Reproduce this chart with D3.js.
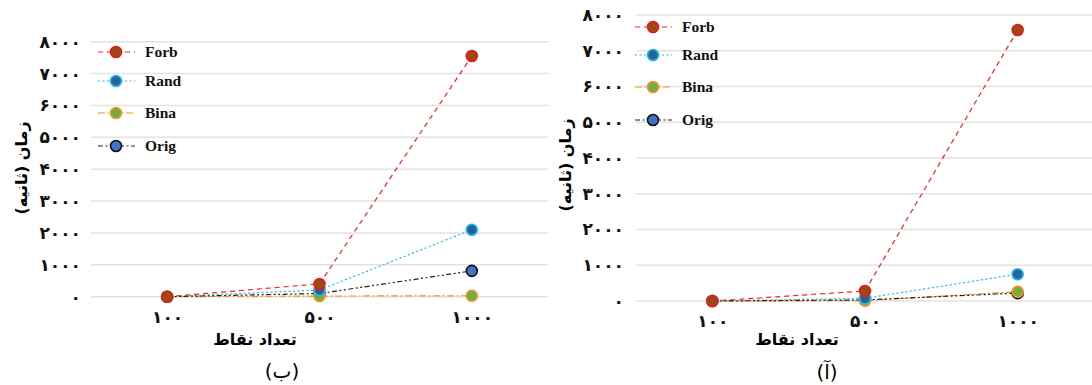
<!DOCTYPE html>
<html>
<head>
<meta charset="utf-8">
<script src="https://cdn.jsdelivr.net/npm/d3@7"></script>
<style>
  html, body { margin: 0; padding: 0; background: #fff; }
  svg { display: block; }
  .fa { font-family: "DejaVu Sans", sans-serif; }
  .lat { font-family: "Liberation Serif", "Times New Roman", serif; }
</style>
</head>
<body>
<svg id="chart" width="1092" height="385"></svg>
<script>
// Number of points on the x axis
const pointCounts = [100, 500, 1000];
const yTickValues = [0, 1000, 2000, 3000, 4000, 5000, 6000, 7000, 8000];
const seriesNames = ["Forb", "Rand", "Bina", "Orig"];

// Panel (ب): run time in seconds
const forbB = [0, 400, 7550];
const randB = [0, 210, 2100];
const binaB = [0, 20, 30];
const origB = [0, 100, 810];

// Panel (آ): run time in seconds
const forbA = [0, 280, 7580];
const randA = [0, 75, 750];
const binaA = [0, 10, 260];
const origA = [0, 30, 220];

const yTitle = "زمان (ثانیه)";
const xTitle = "تعداد نقاط";

const styles = {
  Forb: { line: "#ff2020", dash: "5,4", fill: "#9c4a14", stroke: "#e8191c" },
  Rand: { line: "#1fb8f0", dash: "2,2.5", fill: "#2a6296", stroke: "#1fb8f0" },
  Bina: { line: "#f7941d", dash: "7,2.5,2,2.5", fill: "#70ad47", stroke: "#f7941d" },
  Orig: { line: "#222222", dash: "5,2.5,2,2.5,2,2.5", fill: "#4472c4", stroke: "#111111" }
};

const faDigits = "۰۱۲۳۴۵۶۷۸۹";
const toFa = n => String(n).replace(/\d/g, d => faDigits[+d]);

const svg = d3.select("#chart");

function drawPanel(cfg) {
  const g = svg.append("g");
  const x = d3.scalePoint().domain(pointCounts).range([cfg.x0, cfg.x1]).padding(0.5);
  const y = d3.scaleLinear().domain([0, 8000]).range([cfg.yBottom, cfg.yTop]);

  // horizontal grid
  g.append("g").selectAll("line").data(yTickValues).join("line")
    .attr("x1", cfg.x0).attr("x2", cfg.x1)
    .attr("y1", d => y(d)).attr("y2", d => y(d))
    .attr("stroke", "#e2e2e2").attr("stroke-width", 1.5);

  // y axis labels
  const ya = g.append("g").attr("transform", `translate(${cfg.yLabelRight},0)`)
    .call(d3.axisLeft(y).tickValues(yTickValues).tickSize(0).tickPadding(0).tickFormat(toFa));
  ya.select(".domain").remove();
  ya.selectAll("text").attr("class", "fa").attr("font-size", 17).attr("font-weight", "bold")
    .attr("fill", "#111").attr("font-family", null);

  // x axis labels
  const xa = g.append("g").attr("transform", `translate(0,${cfg.yBottom + 11})`)
    .call(d3.axisBottom(x).tickSize(0).tickFormat(toFa));
  xa.select(".domain").remove();
  xa.selectAll("text").attr("class", "fa").attr("font-size", 17).attr("font-weight", "bold")
    .attr("fill", "#111").attr("font-family", null);

  // axis titles
  g.append("text").attr("class", "fa")
    .attr("transform", `translate(${cfg.yTitleX},${cfg.yTitleY}) rotate(-90)`)
    .attr("text-anchor", "middle").attr("dominant-baseline", "middle")
    .attr("font-size", 16).attr("font-weight", "bold").attr("direction", "rtl")
    .text(yTitle);
  g.append("text").attr("class", "fa")
    .attr("x", cfg.xTitleX).attr("y", cfg.xTitleY)
    .attr("text-anchor", "middle").attr("dominant-baseline", "middle")
    .attr("font-size", 16).attr("font-weight", "bold").attr("direction", "rtl")
    .text(xTitle);
  g.append("text").attr("class", "fa")
    .attr("x", cfg.capX).attr("y", cfg.capY)
    .attr("text-anchor", "middle").attr("dominant-baseline", "middle")
    .attr("font-size", 20).attr("direction", "rtl")
    .text(cfg.caption);

  const line = d3.line().x((d, i) => x(pointCounts[i])).y(d => y(d));

  // lines
  seriesNames.forEach(name => {
    const s = styles[name];
    g.append("path").datum(cfg.data[name])
      .attr("d", line).attr("fill", "none")
      .attr("stroke", s.line).attr("stroke-width", 1.2)
      .attr("stroke-dasharray", s.dash);
  });

  // markers, Forb drawn last so it sits on top
  seriesNames.slice().reverse().forEach(name => {
    const s = styles[name];
    g.append("g").selectAll("circle").data(cfg.data[name]).join("circle")
      .attr("cx", (d, i) => x(pointCounts[i])).attr("cy", d => y(d))
      .attr("r", 5.5).attr("fill", s.fill)
      .attr("stroke", s.stroke).attr("stroke-width", 1.6);
  });

  // legend
  const lg = g.append("g");
  seriesNames.forEach((name, i) => {
    const s = styles[name];
    const ly = cfg.legendY[i];
    lg.append("line").attr("x1", cfg.legX).attr("x2", cfg.legX + 37)
      .attr("y1", ly).attr("y2", ly)
      .attr("stroke", s.line).attr("stroke-width", 1.2).attr("stroke-dasharray", s.dash);
    lg.append("circle").attr("cx", cfg.legX + 18).attr("cy", ly).attr("r", 5.5)
      .attr("fill", s.fill).attr("stroke", s.stroke).attr("stroke-width", 1.6);
    lg.append("text").attr("class", "lat")
      .attr("x", cfg.legX + 47).attr("y", ly).attr("dy", "0.35em")
      .attr("font-size", 15.5).attr("font-weight", "bold").attr("fill", "#111")
      .text(name);
  });
}

drawPanel({
  x0: 91, x1: 548, yTop: 41.7, yBottom: 296.7, yLabelRight: 81,
  yTitleX: 22, yTitleY: 168,
  xTitleX: 255, xTitleY: 340,
  capX: 282, capY: 372, caption: "(ب)",
  legX: 98, legendY: [52, 81, 113, 146],
  data: { Forb: forbB, Rand: randB, Bina: binaB, Orig: origB }
});

drawPanel({
  x0: 636, x1: 1094, yTop: 15, yBottom: 301, yLabelRight: 624,
  yTitleX: 566, yTitleY: 165,
  xTitleX: 797, xTitleY: 340,
  capX: 827, capY: 373, caption: "(آ)",
  legX: 635, legendY: [27, 55, 87, 120],
  data: { Forb: forbA, Rand: randA, Bina: binaA, Orig: origA }
});
</script>
</body>
</html>
